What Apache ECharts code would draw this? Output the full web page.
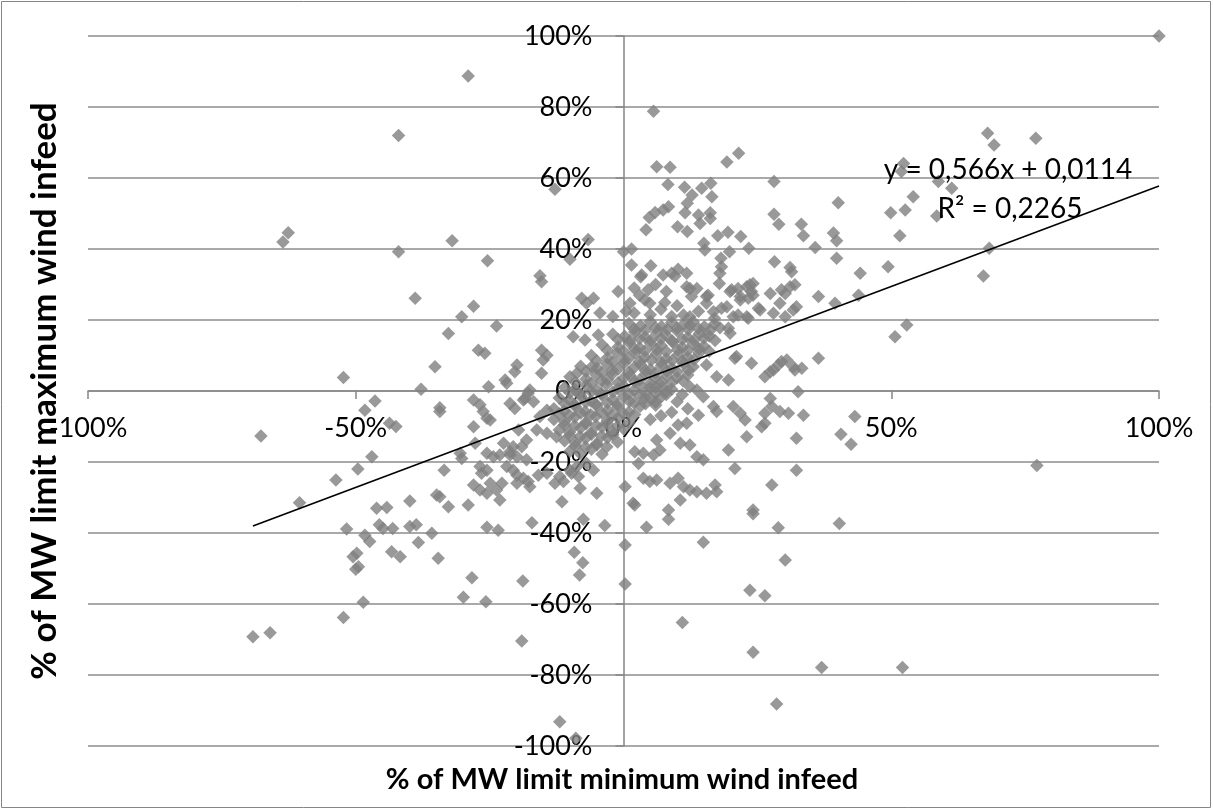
<!DOCTYPE html>
<html>
<head>
<meta charset="utf-8">
<script src="https://cdn.jsdelivr.net/npm/echarts@6/dist/echarts.min.js"></script>
<style>
html,body{margin:0;padding:0;background:#fff;}
#chart{width:1213px;height:810px;}
</style>
</head>
<body>
<div id="chart"></div>
<script>
// values in percent: [min wind infeed %, max wind infeed %]
const pointsUpper = [
[100,100],[-29,88.7],[-42,72],[5.6,78.8],
[-62.6,44.6],[-63.6,42],[-42,39.2],[-32,42.3],
[6.2,63.2],[8.7,63],[8.3,58.2],[11.4,57.4],[12.8,55.2],[11.9,52.9],[11.5,50.2],[14.6,57.1],[16.3,58.5],[16.5,54.7],[16.2,50.2],[14,49.6],[14.3,47.2],[10.1,46.3],[11.9,44.9],[19.3,64.5],[21.5,67],[28.1,59],[28.1,49.8],[29,47],[33.2,47],[33.6,43.7],[4.2,45.4],[4.8,48.9],[5.9,50.3],[7.4,51],[8.4,51.9],[17.6,43.7],[19.5,44.7],[21.9,43.5],[23.4,40.2],[19.8,39.2],[15,41.6],[15.2,39.7],[18.2,37.4],[18.3,35],[0,39.2],[1.5,40],[1.5,35.5],[5.1,35.3],[10.2,34.3],[28.2,36.4],[31.1,34.8],[-12.8,56.8],[-6.6,42.7],[-10,37.1],[-25.4,36.7],
[16.2,48.6],[40.1,53],[39.2,44.5],[39.8,42.3],[35.8,40.4],[49.9,50.2],[52.6,51],[54.1,54.7],[51.6,43.7],[52.3,64.1],[51.9,61.8],[58.8,59],[61.3,57.1],[58.5,49.3],
[3.2,32.2],[7.4,32.7],[9.6,32.4],[11.8,33.2],[18,33.2],[17.9,30.3],[31.4,33.6],[39.8,37.4],[44.2,33.2],[49.4,35],
[68,72.6],[69.2,69.3],[77,71.2],[68.3,40.2],[67.2,32.4]
];
const pointsMid = [
[4.6,28.5],[4,25.6],[4.9,24.7],[7.7,24.9],[1.2,24.7],[11.8,29.4],[13.7,28.9],[12.7,26.6],[15.8,27],[15.5,24.7],[19.9,28],[21.4,28.9],[23,29.4],[24.2,30.3],[23.9,28],[21.8,25.6],[23.3,26.1],[27.4,27.5],[29.5,28.5],[30.2,27.5],[31.1,29.4],[32,29.9],[29.2,24.7],[32.3,23.7],[36.4,26.6],[39.5,24.7],[43.9,27],
[16.8,22.3],[18.3,23.3],[19.3,23.7],[21.4,21.4],[23.3,20.5],[25.2,23.3],[28,21.9],[30.2,20.9],[11.2,21.4],[12.4,18.6],[19.6,17.7],[19.9,16.3],[50.7,15.3],[52.9,18.6],[36.4,9.2],[29.5,8.3],[30.5,8.7],[28,5.9],[32,5.9],[33.3,6.4],[23.9,7.8],[20.8,9.2],[15.5,7.3],
[43.2,-7.2],[40.6,-12.2],[42.5,-15],[77.2,-21],
[-15.3,30.8],[-15.6,32.5],[-28,23.9],[-30.2,20.9],[-23.7,18.3],[-7.8,26.1],[-5.6,26.1],[-6.9,24.7],[3.4,32.7],[9,33.2],[12.4,28.9],[15.5,26.6],[20.2,28.5],[21.8,26.6],[23.6,29.9],[24.2,27],
[12.4,20.9],[20.5,20.9],[23,20.9],[25.5,22.8],[31.7,22.8],[21.1,9.7],[17.4,4],[19.6,3.1],[28.9,7.3],[27.4,5.4],[26.4,4],[31.7,6.8],[32.6,-0.2],[27.4,-2.1],[27.7,-4.4],[26.4,-6.3],[26.4,-9.1],[25.8,-10.1],[29.2,-5.8],[30.8,-6.3],[33.6,-6.8],[32.3,-13.3],[20.5,-4.4],[21.8,-6.3],[22.7,-8.2],[23,-12.9],[17.4,-5.8],[16.8,-4.4],[14,-6.8],[11.8,-9.1],[10.2,-9.6],[14.9,-1.6],[13.7,0.3],[12.4,1.2],
[19.6,-16.6],[20.8,-21.8],[32.3,-22.3],[27.7,-26.5],[24.2,-33.5],[8.7,-11.9],[10.6,-14.7],[12.4,-15.2],[13.7,-18.5],[14.9,-19.4],[6.2,-13.8],[6.8,-16.6],[5.6,-18],[2.1,-17.1],[3.7,-17.5],[2.8,-20.4],[3.7,-24.6],[4.9,-25.5],[6.2,-25.1],[8.7,-26],[10.2,-24.6],[11.2,-27],[12.4,-27.9],[13.7,-28.4],[15.5,-28.8],[17.1,-26.5],[17.4,-28.4],[10.6,-30.7],[2.1,-32.1],[8.4,-33.5],
[-2,21],[0.5,22.5],[-1,28],[2,29],[-4.4,22],
[2,22],[5,21.5],[7,23],[9,21],[10,24],[3,27],[8,28],[6,30],[14,22.5],[17,20.5]
];
const pointsLeft = [
[-38.9,26.1],[-32.7,16.2],[-35.2,6.8],[-37.8,0.5],[-52.3,3.8],[-46.4,-2.8],[-48.3,-5.4],[-34.3,-4.7],[-34.3,-5.8],[-43.7,-9.1],[-42.5,-10],[-67.7,-12.7],[-47,-18.5],[-49.6,-22],[-53.7,-25.1],[-60.5,-31.5],[-33.5,-22.3],[-34.9,-29.3],[-34.3,-29.8],[-39.9,-31],[-46.1,-33],[-44.2,-32.8],[-32.7,-32.6],
[-27.1,11.5],[-25.9,10.6],[-28,-2.5],[-26.8,-3.9],[-26.2,-5.8],[-25.5,-7.7],[-24.9,-8.2],[-28,-10.1],[-25.2,1.2],[-21.8,2.2],[-19.9,7.3],[-20.3,5.4],[-15.3,11.5],[-14.3,10.1],[-15,8.7],[-15.3,5],[-17.8,-0.6],[-18.7,-2.5],[-21.2,-3.5],[-20.3,-4.9],[-9.4,15.3],[-7.2,14.4],[-4.7,15.8],[-8.7,5],[-5.9,6.8],[-14.3,-5.4],[-15.6,-7.2],[-16.2,-11],[-14.3,-11.9],[-12.5,-12.9],[-19.6,-11],[-18.1,-13.8],[-20.6,-15.7],[-21.2,-18],[-30.5,-17.5],[-30.2,-19],[-25.5,-17.5],[-24.3,-18.5],[-23.1,-18],[-26.8,-21.3],[-25.5,-22.3],[-21.8,-21.3],[-20.6,-22.3],[-19.9,-23.7],[-18.7,-24.6],[-17.8,-25.5],[-17.5,-27],[-22.7,-26],[-23.7,-27.9],[-23.1,-30.7],[-28,-26.5],[-26.8,-27.9],[-25.5,-28.8],[-29,-32.1],[-11.5,-31.2],[-8.1,-27.4],[-5,-28.8],[-11.2,-25.5],[-9.7,-23.2],[-8.7,-21.3],[0.3,-27],[1.8,-31.6],
[-17.5,0.3],[-18.4,-2.1],[-16.8,-3],[-22.1,3.1],[-27.7,-14.7],[-22.4,-14.7],[-21.2,-17.1],[-19,-15.7],[-19.9,-18.5],[-18.1,-19.4],
[-26.5,-23.2],[-24.9,-26],[-19.9,-26],[-15.9,-23.7],[-14.3,-23.2],[-12.8,-26],[-11.9,-24.1],[-10,-22.3],[-8.4,-24.1],[-6.9,-20.4],[-5.6,-22.3]
];
const pointsLower = [
[40.3,-37.3],[37,-77.9],[52.1,-77.9],
[-17.1,-37.1],[-25.5,-38.4],[-23.4,-39.2],[-7.5,-36.1],[-3.5,-37.9],[4.3,-38.4],[8.4,-36.1],[24.2,-34.6],[28.9,-38.5],[0.3,-43.4],[14.9,-42.6],[30.2,-47.6],[-9.2,-45.4],[-7.6,-48.4],[-8.2,-51.8],[-28.3,-52.6],[-29.9,-58.1],[-25.7,-59.4],[-18.8,-53.5],[0.3,-54.4],[23.6,-56.1],[26.4,-57.7],[11,-65.2],[-19,-70.4],[24.2,-73.6],[28.6,-88.2],[-11.9,-93.2],[-8.9,-97.8],
[-51.7,-38.9],[-48.3,-40.6],[-47.4,-42.4],[-45.6,-37.7],[-44.9,-38.7],[-43.1,-38.7],[-39.9,-38.2],[-38.7,-37.7],[-35.8,-40.1],[-38.3,-42.7],[-34.6,-47.1],[-43.3,-45.3],[-41.7,-46.7],[-49.8,-45.7],[-50.5,-46.7],[-49.5,-49.5],[-50,-50.2],[-48.6,-59.5],[-52.3,-63.8],[-69.2,-69.2],[-66,-68.1]
];
const pointsCore = [
[1,19],[3.2,18.4],[5,19.6],[7.1,18.2],[9,19.3],[11.2,18.8],[13,19.5],[15.1,18.1],[17,18.9],
[-2,16],[0.2,15.4],[2.1,16.6],[4,15.2],[6.2,16.4],[8,15.6],[10.1,16.8],[12,15.1],[14.2,16.2],[16,15.5],
[-4,13],[-1,12.4],[1.1,13.6],[3,12.2],[5.1,13.4],[7,12.8],[9.2,13.7],[11,12.3],[13.1,13.2],[15,12.6],
[-6,10],[-3,9.4],[-1.2,10.6],[1,9.2],[2.2,10.8],[4,9.6],[6.1,10.4],[8,9.1],[10.2,10.2],[12,9.5],[14.1,10.7],
[-8,7],[-5,6.4],[-3.1,7.6],[-1,6.2],[0.1,7.8],[2,6.6],[3.2,7.4],[5,6.1],[7.1,7.2],[9,6.5],[11.2,7.7],[13,6.8],
[-10,4],[-7,3.4],[-5.1,4.6],[-3,3.2],[-2.1,4.8],[0,3.6],[1.2,4.4],[3,3.1],[4.1,4.7],[6,3.5],[8.1,4.3],[10,3.7],[12,4.5],
[-11,1],[-9.1,0.4],[-7,1.6],[-5,0.3],[-3.2,1.8],[-1,0.6],[0.1,1.4],[2,0.2],[3.1,1.7],[5,0.9],[7.2,1.3],[9,0.5],
[-12,-2],[-10.1,-2.6],[-8,-1.4],[-6.1,-2.8],[-4,-1.2],[-2,-2.4],[0,-1.6],[1.1,-2.9],[3,-1.3],[5.1,-2.2],[7,-1.7],
[-13,-5],[-11.1,-5.6],[-9,-4.4],[-7.2,-5.8],[-5,-4.2],[-3,-5.4],[-1.1,-4.6],[1,-5.9],[3.1,-4.3],
[-13,-8],[-11,-8.6],[-9.1,-7.4],[-7,-8.8],[-5.2,-7.2],[-3,-8.4],[-1,-7.6],[1.1,-8.9],
[-12,-11],[-10.1,-11.6],[-8,-10.4],[-6.1,-11.8],[-4,-10.2],[-2.1,-11.4],[0,-10.6],
[-11,-14],[-9,-14.6],[-7.1,-13.4],[-5,-14.8],[-3,-13.2],[-1.1,-14.4],
[-10,-17],[-8.1,-17.6],[-6,-16.4],[-4,-17.8],
[4,-2],[6,-4],[8,-1],[10,-3],[9,-6],[11,-1],[6,1],[12,-5],[7,-7],[5,-8]
];
const pointsCore2 = [
[2,17.5],[4.1,17.2],[6,17.8],[8.2,17.4],[10,17.7],[12.1,17.3],[14,17.6],[16.2,17.1],[18,17.8],
[-1,14.5],[1.2,14.2],[3,14.8],[5.1,14.3],[7,14.7],[9.1,14.1],[11,14.6],[13.2,14.4],[15,14.9],[17.1,14.2],
[-3,11.5],[0,11.2],[2.1,11.8],[4,11.3],[6.2,11.7],[8,11.1],[10.1,11.6],[12,11.4],[14.1,11.9],[16,11.2],
[-5,8.5],[-2,8.2],[0.1,8.8],[3,8.3],[5.2,8.7],[7,8.1],[9.1,8.6],[11,8.4],[13.2,8.9],
[-7,5.5],[-4,5.2],[-2.1,5.8],[1,5.3],[4.1,5.7],[6,5.1],[8.1,5.6],[10,5.4],[12.1,5.9],
[-9,2.5],[-6,2.2],[-4.1,2.8],[-1,2.3],[2.1,2.7],[5,2.1],[7.1,2.6],[9,2.4],[11.1,2.9],
[-10,-0.5],[-8.1,-0.8],[-6,-0.2],[-4.1,-0.7],[-2,-0.3],[1,-0.9],[4.1,-0.4],[6,-0.6],[8.1,-0.1],
[-11,-3.5],[-9.1,-3.8],[-7,-3.2],[-5.1,-3.7],[-3,-3.3],[-1.1,-3.9],[2,-3.4],[4.1,-3.6],[6,-3.1],
[-12,-6.5],[-10.1,-6.8],[-8,-6.2],[-6.1,-6.7],[-4,-6.3],[-2.1,-6.9],[0,-6.4],[2.1,-6.6],
[-11,-9.5],[-9.1,-9.8],[-7,-9.2],[-5.1,-9.7],[-3,-9.3],[-1.1,-9.9],
[-10,-12.5],[-8.1,-12.8],[-6,-12.2],[-4.1,-12.7],[-2,-12.3],
[-9,-15.5],[-7.1,-15.8],[-5,-15.2],[-3.1,-15.7]
];
const trendX = [-69.2, 100];
const trendSlope = 0.566;
const trendIntercept = 1.14; // 0,0114 expressed in percent
const xTicks = [-100, -50, 0, 50, 100];
const yTicks = [-100, -80, -60, -40, -20, 0, 20, 40, 60, 80, 100];

const allPoints = pointsUpper.concat(pointsMid, pointsLeft, pointsLower, pointsCore, pointsCore2);
const trendData = trendX.map(x => [x, trendSlope * x + trendIntercept]);

const FONT = 'Lato, "Open Sans", sans-serif';
const GL = 88, GR = 54, GT = 36, GB = 64, W = 1213, H = 810;
const plotW = W - GL - GR, plotH = H - GT - GB;
// axes cross at zero: shift the axes from the grid edges to the zero lines
const xMin = xTicks[0], xMax = xTicks[xTicks.length - 1];
const yMin = yTicks[0], yMax = yTicks[yTicks.length - 1];
const xAxisOffset = -plotH * (0 - yMin) / (yMax - yMin);
const yAxisOffset = -plotW * (0 - xMin) / (xMax - xMin);

const chart = echarts.init(document.getElementById('chart'));
chart.setOption({
  animation: false,
  backgroundColor: '#ffffff',
  grid: { left: GL, right: GR, top: GT, bottom: GB, containLabel: false, outerBoundsMode: 'none' },
  xAxis: {
    type: 'value', min: xMin, max: xMax, interval: 50, position: 'bottom', offset: xAxisOffset,
    axisLine: { show: true, onZero: false, lineStyle: { color: '#868686', width: 1.5 } },
    axisTick: { show: true, length: 8, lineStyle: { color: '#868686', width: 1.5 } },
    splitLine: { show: false },
    axisLabel: { formatter: '{value}%', color: '#000', fontSize: 27, fontFamily: FONT, margin: 24 }
  },
  yAxis: {
    type: 'value', min: yMin, max: yMax, interval: 20, position: 'left', offset: yAxisOffset,
    axisLine: { show: true, onZero: false, lineStyle: { color: '#868686', width: 1.5 } },
    axisTick: { show: true, length: 8, lineStyle: { color: '#868686', width: 1.5 } },
    splitLine: { show: true, lineStyle: { color: '#8c8c8c', width: 1.5 } },
    axisLabel: { formatter: '{value}%', color: '#000', fontSize: 27, fontFamily: FONT, margin: 31 }
  },
  series: [
    {
      type: 'scatter', data: allPoints, symbol: 'diamond', symbolSize: 13.5,
      itemStyle: { color: '#808080' }, z: 2
    },
    {
      type: 'line', data: trendData, showSymbol: false, symbol: 'none',
      lineStyle: { color: '#000', width: 1.6 }, z: 3
    }
  ],
  graphic: [
    { type: 'rect', shape: { x: 1.5, y: 1.5, width: 1209, height: 806 }, style: { fill: 'none', stroke: '#868686', lineWidth: 1 }, silent: true },
    { type: 'text', x: 1008, y: 170, style: { text: 'y = 0,566x + 0,0114', font: '28px ' + FONT, fill: '#000', textAlign: 'center', textVerticalAlign: 'middle' }, z: 10 },
    { type: 'text', x: 1010, y: 209, style: { text: 'R² = 0,2265', font: '28px ' + FONT, fill: '#000', textAlign: 'center', textVerticalAlign: 'middle' }, z: 10 },
    { type: 'text', x: 622, y: 780, style: { text: '% of MW limit minimum wind infeed', font: 'bold 29px ' + FONT, fill: '#000', textAlign: 'center', textVerticalAlign: 'middle' } },
    { type: 'text', x: 45, y: 391, rotation: Math.PI / 2, style: { text: '% of MW limit maximum wind infeed', font: 'bold 35px ' + FONT, fill: '#000', textAlign: 'center', textVerticalAlign: 'middle' } }
  ]
});
</script>
</body>
</html>
